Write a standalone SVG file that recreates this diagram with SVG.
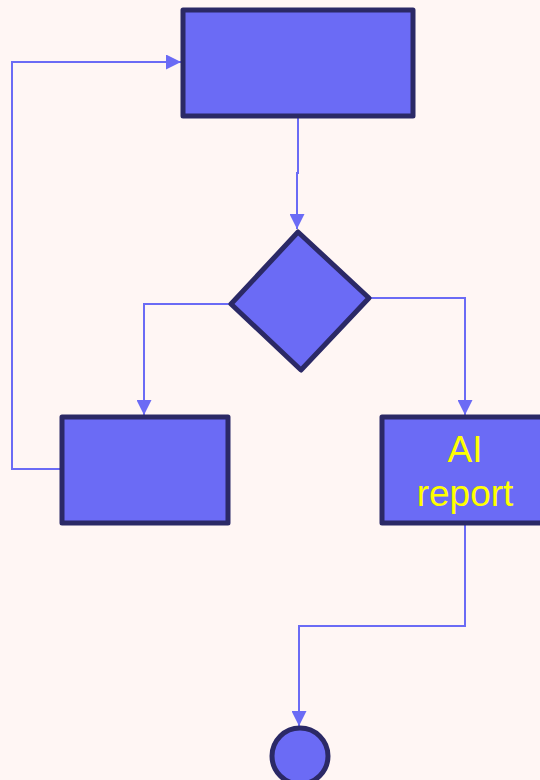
<svg xmlns="http://www.w3.org/2000/svg" width="540" height="780" viewBox="0 0 540 780">
<defs>
<style>
.node{fill:#6b6bf5;stroke:#2b2966;stroke-width:5;stroke-linejoin:round}
.edge{fill:none;stroke:#6b6bf5;stroke-width:2}
.lbl{font-family:"Liberation Sans",Arial,sans-serif;font-size:37px;fill:#ffff00;text-anchor:middle}
</style>
<marker id="arr" viewBox="0 0 16 16" refX="16" refY="8" markerWidth="16" markerHeight="15" markerUnits="userSpaceOnUse" orient="auto">
<path d="M0,0 L16,8 L0,16 Z" fill="#6b6bf5"/>
</marker>
</defs>
<rect width="540" height="780" fill="#fff6f4"/>
<g id="connectors">
<path class="edge" d="M298,118 V173 H297 V229" marker-end="url(#arr)"/>
<path class="edge" d="M229,304 H144 V415" marker-end="url(#arr)"/>
<path class="edge" d="M371,298 H465 V415" marker-end="url(#arr)"/>
<path class="edge" d="M60,469 H12 V62 H181" marker-end="url(#arr)"/>
<path class="edge" d="M465,525 V626 H299 V726" marker-end="url(#arr)"/>
</g>
<g id="start"><rect class="node" x="183" y="10" width="230" height="106"/></g>
<g id="decision"><polygon class="node" points="298,232 369,298 301,370 231,304"/></g>
<g id="retry"><rect class="node" x="62" y="417" width="166" height="106"/></g>
<g id="ai-report"><rect class="node" x="382" y="417" width="166" height="106"/>
<text class="lbl" x="465" y="462">AI</text>
<text class="lbl" x="465" y="506">report</text></g>
<g id="end"><circle class="node" cx="300" cy="756" r="28"/></g>
</svg>
